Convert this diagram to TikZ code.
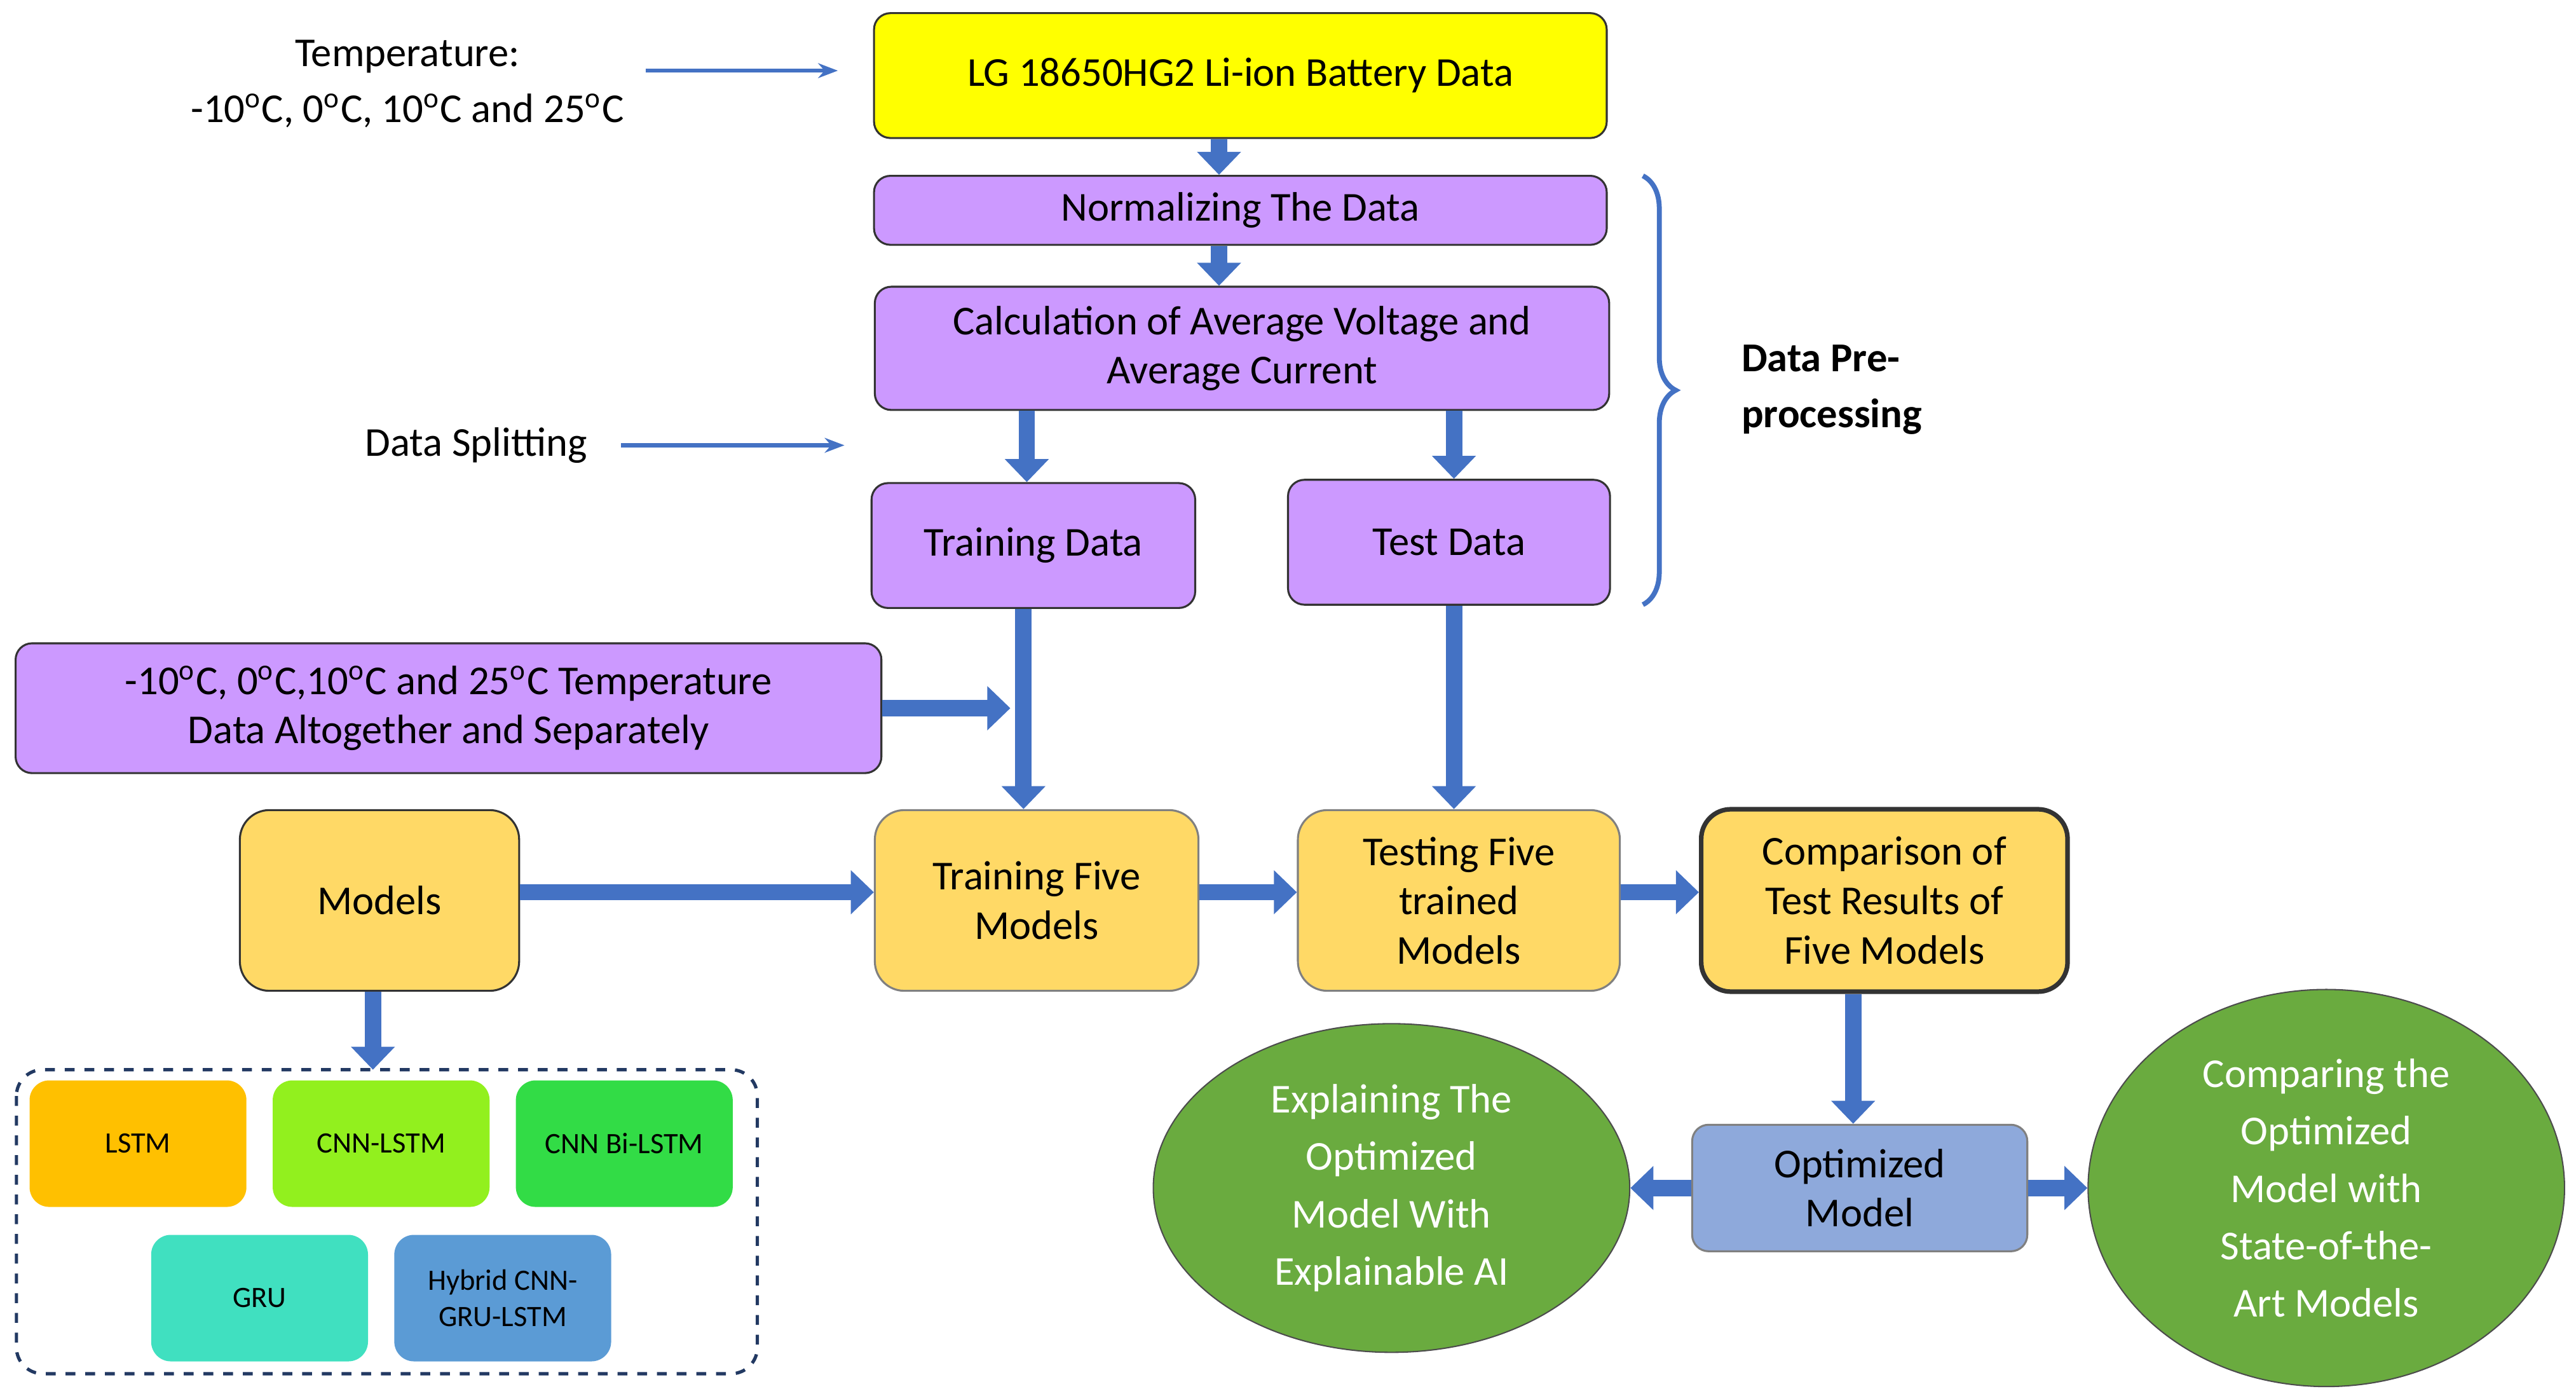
\documentclass[tikz,border=0pt]{standalone}
\usepackage{fontspec}
\setmainfont{Carlito}
\usetikzlibrary{arrows.meta,shapes.geometric,decorations.pathreplacing}
\definecolor{yel}{RGB}{255,255,0}
\definecolor{purp}{RGB}{204,153,255}
\definecolor{orng}{RGB}{255,217,102}
\definecolor{lstm}{RGB}{255,192,0}
\definecolor{cnnl}{RGB}{146,240,30}
\definecolor{cnnb}{RGB}{50,220,70}
\definecolor{gru}{RGB}{64,224,192}
\definecolor{hyb}{RGB}{91,155,213}
\definecolor{optm}{RGB}{142,169,219}
\definecolor{elli}{RGB}{106,171,63}
\definecolor{arr}{RGB}{68,114,196}
\tikzset{
  box/.style={draw=black!80,rounded corners=5pt,align=center,line width=0.6pt,font=\fontsize{12.5}{15}\selectfont},
  mbox/.style={rounded corners=6pt,align=center,minimum width=66pt,minimum height=38.5pt,font=\fontsize{9}{11}\selectfont},
  fat/.style={draw=arr!60!black,line width=5pt,arr,-{Triangle[width=13pt,length=7pt]}},
  thin/.style={draw=arr,line width=1.2pt,-{Stealth[length=6pt]}},
}
\begin{document}
\begin{tikzpicture}[x=0.5pt,y=0.5pt,yscale=-1]
\useasboundingbox (0,0) rectangle (1568,845);

%Shape: Rectangles (top column)
\node[box,fill=yel,minimum width=223pt,minimum height=38pt] (bat) at (755,46) {LG 18650HG2 Li-ion Battery Data};
\node[box,fill=purp,minimum width=223pt,minimum height=21pt] (norm) at (755,128) {Normalizing The Data};
\node[box,fill=purp,minimum width=223.5pt,minimum height=37.5pt] (calc) at (756,212) {Calculation of Average Voltage and\\Average Current};
\node[box,fill=purp,minimum width=98.5pt,minimum height=38pt] (train) at (629,332) {Training Data};
\node[box,fill=purp,minimum width=98pt,minimum height=38pt] (test) at (882,330) {Test Data};
\node[box,fill=purp,minimum width=263.5pt,minimum height=39.5pt] (tdata) at (273,431) {-10\textsuperscript{o}C, 0\textsuperscript{o}C,10\textsuperscript{o}C and 25\textsuperscript{o}C Temperature\\Data Altogether and Separately};

%Shape: Rectangles (model row)
\node[box,fill=orng,rounded corners=9pt,minimum width=85pt,minimum height=55pt] (models) at (231,548) {Models};
\node[box,fill=orng,draw=black!50,rounded corners=9pt,minimum width=98.5pt,minimum height=55pt] (tfive) at (631,548) {Training Five\\Models};
\node[box,fill=orng,draw=black!50,rounded corners=9pt,minimum width=98pt,minimum height=55pt] (testing) at (888,548) {Testing Five\\trained\\Models};
\node[box,fill=orng,line width=1.4pt,rounded corners=9pt,minimum width=111.5pt,minimum height=55.5pt] (comp) at (1147,548) {Comparison of\\Test Results of\\Five Models};
\node[box,fill=optm,draw=black!50,minimum width=102pt,minimum height=38.5pt] (opt) at (1132,723) {Optimized\\Model};

%Shape: Ellipses
\node[ellipse,draw=black!70,fill=elli,text=white,align=center,minimum width=145pt,minimum height=100pt,font=\fontsize{12.5}{17.5}\selectfont] (expl) at (847,723) {Explaining The\\Optimized\\Model With\\Explainable AI};
\node[ellipse,draw=black!70,fill=elli,text=white,align=center,minimum width=145pt,minimum height=100pt,font=\fontsize{12.5}{17.5}\selectfont] (compsota) at (1416,723) {Comparing the\\Optimized\\Model with\\State-of-the-\\Art Models};

%Shape: Dashed model group
\draw[draw=arr!50!black,dashed,line width=1pt,rounded corners=8pt] (10,651) rectangle (461,836);
\coordinate (grp) at (227,651);
\node[mbox,fill=lstm] (lstm) at (84,696) {LSTM};
\node[mbox,fill=cnnl] (cnnlstm) at (232,696) {CNN-LSTM};
\node[mbox,fill=cnnb] (cnnbi) at (380,696) {CNN Bi-LSTM};
\node[mbox,fill=gru] (grunode) at (158,790) {GRU};
\node[mbox,fill=hyb] (hybrid) at (306,790) {Hybrid CNN-\\GRU-LSTM};

% Text Node
\node[align=center,font=\fontsize{12.5}{17}\selectfont] (temp) at (248,51) {Temperature:\\-10\textsuperscript{o}C, 0\textsuperscript{o}C, 10\textsuperscript{o}C and 25\textsuperscript{o}C};
\node[font=\fontsize{12.5}{15}\selectfont] (split) at (290,271) {Data Splitting};
\node[align=left,font=\bfseries\fontsize{12.5}{17}\selectfont] (pre) at (1115,237) {Data Pre-\\processing};

%Straight Lines (thin arrows)
\coordinate (tin) at (510,43);
\coordinate (sin) at (514,271);
\draw[thin] (393,43) -- (tin);
\draw[thin] (378,271) -- (sin);

%Brace
\draw[draw=arr,line width=1.5pt,decorate,decoration={brace,amplitude=10pt}] (1000,107) -- (1000,368);

%Block arrows
\draw[fat] ([xshift=-6.5pt]bat.south) -- ([xshift=-6.5pt]bat.south |- norm.north);
\draw[fat] ([xshift=-6.5pt]norm.south) -- ([xshift=-6.5pt]norm.south |- calc.north);
\draw[fat] (calc.south -| 625,0) -- (train.north -| 625,0);
\draw[fat] (calc.south -| 885,0) -- (test.north -| 885,0);
\coordinate (join) at (615,431);
\draw[fat] (train.south -| 623,0) -- (tfive.north -| 623,0);
\draw[fat] (tdata.east) -- (join);
\draw[fat] (test.south -| 885,0) -- (testing.north -| 885,0);
\draw[fat] (models.east |- 0,543) -- (tfive.west |- 0,543);
\draw[fat] (tfive.east |- 0,543) -- (testing.west |- 0,543);
\draw[fat] (testing.east |- 0,543) -- (comp.west |- 0,543);
\draw[fat] (comp.south -| 1128,0) -- (opt.north -| 1128,0);
\draw[fat] (models.south -| 227,0) -- (grp);
\draw[fat] (opt.west) -- (expl.east);
\draw[fat] (opt.east) -- (compsota.west);

\end{tikzpicture}
\end{document}
